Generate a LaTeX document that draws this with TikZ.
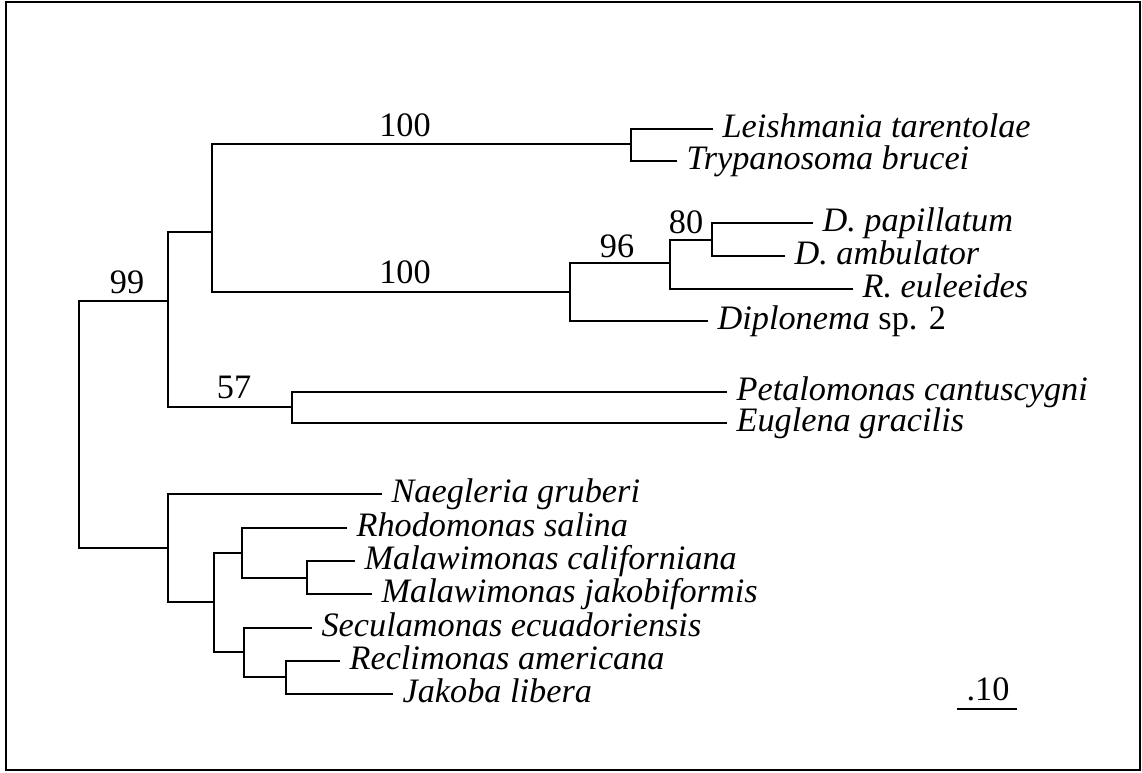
\documentclass[tikz,border=0pt]{standalone}
\usepackage{fontspec}
\setmainfont{Liberation Serif}
\begin{document}
\begin{tikzpicture}[x=0.75pt,y=-0.75pt,
  br/.style={draw=black, line width=1.5pt},
  leaf/.style={anchor=west, inner sep=0pt, inner xsep=7pt, text height=12pt, text depth=0pt, font=\fontsize{25.7}{30}\selectfont\itshape},
  boot/.style={anchor=base, inner sep=0pt, font=\fontsize{25.7}{30}\selectfont},
  frame/.style={draw=black, line width=1.6pt}]
\useasboundingbox (0,0) rectangle (1142,772);
\draw[frame] (6,2) rectangle (1140,770);

% internal nodes
\coordinate (root) at (79,424);
\coordinate (A) at (168,301);
\coordinate (B) at (212,232);
\coordinate (LT) at (631,144);
\coordinate (N96) at (570,292);
\coordinate (N80p) at (670,263);
\coordinate (N80) at (712,240);
\coordinate (C) at (292,407);
\coordinate (D) at (168,548);
\coordinate (E) at (214,602);
\coordinate (F) at (242,553);
\coordinate (G) at (307,578);
\coordinate (H) at (244,652);
\coordinate (I) at (286,677);

% leaves
\node[leaf] (leish) at (713,129) {Leishmania tarentolae};
\node[leaf] (tryp) at (677,161) {Trypanosoma brucei};
\node[leaf] (dpap) at (813,223) {D. papillatum};
\node[leaf] (damb) at (785,256) {D. ambulator};
\node[leaf] (reul) at (853,289) {R. euleeides};
\node[leaf] (dipl) at (708,321) {Diplonema\/\upshape{} sp. 2};
\node[leaf] (peta) at (727,392) {Petalomonas cantuscygni};
\node[leaf] (eugl) at (727,423) {Euglena gracilis};
\node[leaf] (naeg) at (382,494) {Naegleria gruberi};
\node[leaf] (rhod) at (347,528) {Rhodomonas salina};
\node[leaf] (mcal) at (355,561) {Malawimonas californiana};
\node[leaf] (mjak) at (372,594) {Malawimonas jakobiformis};
\node[leaf] (secu) at (312,628) {Seculamonas ecuadoriensis};
\node[leaf] (recl) at (340,661) {Reclimonas americana};
\node[leaf] (jako) at (393,694) {Jakoba libera};

% branches
\draw[br] (root) |- (A);
\draw[br] (root) |- (D);
\draw[br] (A) |- (B);
\draw[br] (A) |- (C);
\draw[br] (B) |- (LT);
\draw[br] (B) |- (N96);
\draw[br] (LT) |- (leish.west);
\draw[br] (LT) |- (tryp.west);
\draw[br] (N96) |- (N80p);
\draw[br] (N96) |- (dipl.west);
\draw[br] (N80p) |- (N80);
\draw[br] (N80p) |- (reul.west);
\draw[br] (N80) |- (dpap.west);
\draw[br] (N80) |- (damb.west);
\draw[br] (C) |- (peta.west);
\draw[br] (C) |- (eugl.west);
\draw[br] (D) |- (naeg.west);
\draw[br] (D) |- (E);
\draw[br] (E) |- (F);
\draw[br] (E) |- (H);
\draw[br] (F) |- (rhod.west);
\draw[br] (F) |- (G);
\draw[br] (G) |- (mcal.west);
\draw[br] (G) |- (mjak.west);
\draw[br] (H) |- (secu.west);
\draw[br] (H) |- (I);
\draw[br] (I) |- (recl.west);
\draw[br] (I) |- (jako.west);

% bootstrap values
\node[boot] (b99) at (127,293) {99};
\node[boot] (b100a) at (405,136) {100};
\node[boot] (b100b) at (405,283) {100};
\node[boot] (b57) at (234,398) {57};
\node[boot] (b96) at (617,257) {96};
\node[boot] (b80) at (686,233) {80};

% scale bar
\coordinate (sbl) at (957,709);
\coordinate (sbr) at (1017,709);
\draw[draw=black, line width=2pt] (sbl) -- (sbr);
\node[boot] (sbt) at (988,700) {.10};
\end{tikzpicture}
\end{document}
